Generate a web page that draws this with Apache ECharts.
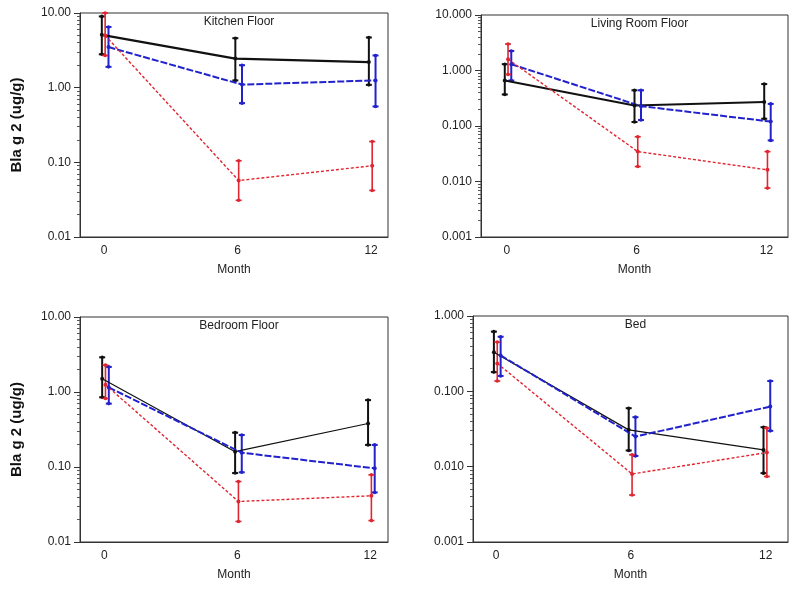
<!DOCTYPE html>
<html>
<head>
<meta charset="utf-8">
<script src="https://cdn.jsdelivr.net/npm/echarts@6/dist/echarts.min.js"></script>
<style>html,body{margin:0;padding:0;background:#fff;}#c{width:800px;height:596px;}</style>
</head>
<body>
<div id="c"></div>
<script>
// ---- data ----
const months = [0, 6, 12];
const panelTitles = ['Kitchen Floor', 'Living Room Floor', 'Bedroom Floor', 'Bed'];
const yTitle = 'Bla g 2 (ug/g)';
const xTitle = 'Month';

// Kitchen Floor
const kitchenBlack   = [5.1, 2.45, 2.2];
const kitchenBlackLo = [2.8, 1.25, 1.09];
const kitchenBlackHi = [9.0, 4.6, 4.7];
const kitchenBlue    = [3.5, 1.1, 1.25];
const kitchenBlueLo  = [1.9, 0.62, 0.56];
const kitchenBlueHi  = [6.5, 2.0, 2.7];
const kitchenRed     = [5.0, 0.057, 0.09];
const kitchenRedLo   = [2.7, 0.031, 0.042];
const kitchenRedHi   = [10.0, 0.105, 0.19];

// Living Room Floor
const livingBlack   = [0.66, 0.235, 0.27];
const livingBlackLo = [0.37, 0.118, 0.135];
const livingBlackHi = [1.3, 0.44, 0.57];
const livingBlue    = [1.3, 0.228, 0.12];
const livingBlueLo  = [0.66, 0.128, 0.055];
const livingBlueHi  = [2.25, 0.44, 0.25];
const livingRed     = [1.6, 0.0346, 0.0162];
const livingRedLo   = [0.85, 0.0186, 0.0076];
const livingRedHi   = [3.0, 0.064, 0.0346];

// Bedroom Floor
const bedroomBlack   = [1.5, 0.16, 0.38];
const bedroomBlackLo = [0.85, 0.083, 0.197];
const bedroomBlackHi = [2.9, 0.287, 0.78];
const bedroomBlue    = [1.15, 0.155, 0.096];
const bedroomBlueLo  = [0.70, 0.085, 0.0458];
const bedroomBlueHi  = [2.16, 0.267, 0.197];
const bedroomRed     = [1.25, 0.0347, 0.0413];
const bedroomRedLo   = [0.82, 0.0188, 0.0193];
const bedroomRedHi   = [2.28, 0.064, 0.0786];

// Bed
const bedBlack   = [0.33, 0.0308, 0.0167];
const bedBlackLo = [0.18, 0.0164, 0.0082];
const bedBlackHi = [0.62, 0.0597, 0.0334];
const bedBlue    = [0.30, 0.0251, 0.0628];
const bedBlueLo  = [0.16, 0.0139, 0.0299];
const bedBlueHi  = [0.53, 0.0454, 0.137];
const bedRed     = [0.235, 0.008, 0.0154];
const bedRedLo   = [0.137, 0.0042, 0.0074];
const bedRedHi   = [0.45, 0.0144, 0.0325];

const yMajor = [
  [0.01, 0.1, 1, 10],
  [0.001, 0.01, 0.1, 1, 10],
  [0.01, 0.1, 1, 10],
  [0.001, 0.01, 0.1, 1]
];
const yDecimals = [2, 3, 2, 3];

// ---- layout / style ----
const FONT = 'Liberation Sans, Arial, sans-serif';
const grids = [
  {left: 80,  top: 13,  width: 308, height: 224, xMin: -1.08, xMax: 12.76},
  {left: 481, top: 15,  width: 307, height: 222, xMin: -1.2,  xMax: 13.0},
  {left: 80,  top: 317, width: 308, height: 225, xMin: -1.1,  xMax: 12.8},
  {left: 473, top: 316, width: 315, height: 226, xMin: -1.03, xMax: 12.99}
];
const groupStyles = {
  black: {color: '#111111', dx: -0.1, dash: 'solid', width: [2.2, 2, 1.2, 1.2], barW: 2},
  red:   {color: '#e02630', dx: 0.05, dash: [3, 2], width: [1.4, 1.4, 1.4, 1.4], barW: 1.6},
  blue:  {color: '#2222cc', dx: 0.2, dash: [7, 2], width: [2, 2, 2, 2], barW: 2}
};
const panelData = [
  {black: [kitchenBlack, kitchenBlackLo, kitchenBlackHi], blue: [kitchenBlue, kitchenBlueLo, kitchenBlueHi], red: [kitchenRed, kitchenRedLo, kitchenRedHi]},
  {black: [livingBlack, livingBlackLo, livingBlackHi], blue: [livingBlue, livingBlueLo, livingBlueHi], red: [livingRed, livingRedLo, livingRedHi]},
  {black: [bedroomBlack, bedroomBlackLo, bedroomBlackHi], blue: [bedroomBlue, bedroomBlueLo, bedroomBlueHi], red: [bedroomRed, bedroomRedLo, bedroomRedHi]},
  {black: [bedBlack, bedBlackLo, bedBlackHi], blue: [bedBlue, bedBlueLo, bedBlueHi], red: [bedRed, bedRedLo, bedRedHi]}
];

function minorValues(major) {
  const out = [];
  for (let i = 0; i < major.length - 1; i++) {
    for (let k = 2; k <= 9; k++) out.push(+(major[i] * k).toPrecision(3));
  }
  return out;
}

const option = {
  animation: false,
  backgroundColor: '#ffffff',
  textStyle: {fontFamily: FONT},
  title: [], grid: [], xAxis: [], yAxis: [], series: []
};

grids.forEach((g, i) => {
  option.grid.push({left: g.left, top: g.top, width: g.width, height: g.height,
    show: true, borderColor: '#333', borderWidth: 1, containLabel: false});
  option.title.push({
    text: panelTitles[i],
    left: g.left + g.width * 0.5,
    top: g.top - 2,
    textAlign: 'center',
    textStyle: {fontFamily: FONT, fontSize: 12, fontWeight: 'normal', color: '#222'}
  });
  option.xAxis.push({
    type: 'value', gridIndex: i, min: g.xMin, max: g.xMax,
    name: xTitle, nameLocation: 'middle', nameGap: 27,
    nameTextStyle: {fontFamily: FONT, fontSize: 12, color: '#222'},
    axisLine: {show: true, onZero: false, lineStyle: {color: '#333', width: 1}},
    axisTick: {show: false},
    splitLine: {show: false},
    axisLabel: {customValues: months, fontFamily: FONT, fontSize: 12, color: '#222', margin: 8}
  });
  const major = yMajor[i];
  const ymin = major[0], ymax = major[major.length - 1];
  option.yAxis.push({
    type: 'log', logBase: 10, gridIndex: i, min: ymin, max: ymax, position: 'left',
    name: (i % 2 === 0) ? yTitle : '', nameLocation: 'middle', nameGap: 56,
    nameTextStyle: {fontFamily: FONT, fontSize: 15, fontWeight: 'bold', color: '#111'},
    axisLine: {show: true, onZero: false, lineStyle: {color: '#333', width: 1}},
    axisTick: {show: true, length: 6, customValues: major, lineStyle: {color: '#333'}},
    splitLine: {show: false},
    axisLabel: {customValues: major, fontFamily: FONT, fontSize: 12, color: '#222', margin: 9,
      formatter: v => Number(v).toFixed(yDecimals[i])}
  });
  // minor ticks
  option.yAxis.push({
    type: 'log', logBase: 10, gridIndex: i, min: ymin, max: ymax, position: 'left', offset: 0,
    axisLine: {show: false, onZero: false},
    axisTick: {show: true, length: 3, customValues: minorValues(major), lineStyle: {color: '#555'}},
    axisLabel: {show: false},
    splitLine: {show: false}
  });
  const yIdx = i * 2;
  ['black', 'blue', 'red'].forEach(key => {
    const st = groupStyles[key];
    const [mean, lo, hi] = panelData[i][key];
    const lineData = months.map((m, j) => [m + st.dx, mean[j]]);
    const barData = months.map((m, j) => [m + st.dx, lo[j], hi[j]]);
    option.series.push({
      type: 'custom', xAxisIndex: i, yAxisIndex: yIdx, z: 3,
      renderItem: (params, api) => {
        const x = api.value(0);
        const a = api.coord([x, api.value(1)]);
        const b = api.coord([x, api.value(2)]);
        const cw = 3;
        const ls = {stroke: st.color, lineWidth: st.barW};
        return {type: 'group', children: [
          {type: 'line', shape: {x1: a[0], y1: a[1], x2: b[0], y2: b[1]}, style: ls},
          {type: 'line', shape: {x1: a[0] - cw, y1: a[1], x2: a[0] + cw, y2: a[1]}, style: ls},
          {type: 'line', shape: {x1: b[0] - cw, y1: b[1], x2: b[0] + cw, y2: b[1]}, style: ls},
          {type: 'circle', shape: {cx: a[0], cy: a[1], r: 1.8}, style: {fill: st.color}},
          {type: 'circle', shape: {cx: b[0], cy: b[1], r: 1.8}, style: {fill: st.color}}
        ]};
      },
      encode: {x: 0, y: [1, 2]},
      data: barData
    });
    option.series.push({
      type: 'line', xAxisIndex: i, yAxisIndex: yIdx, z: 4,
      data: lineData,
      symbol: 'circle', symbolSize: 4,
      itemStyle: {color: st.color},
      lineStyle: {color: st.color, width: st.width[i], type: st.dash}
    });
  });
});

const chart = echarts.init(document.getElementById('c'), null, {renderer: 'canvas'});
chart.setOption(option);
</script>
</body>
</html>
